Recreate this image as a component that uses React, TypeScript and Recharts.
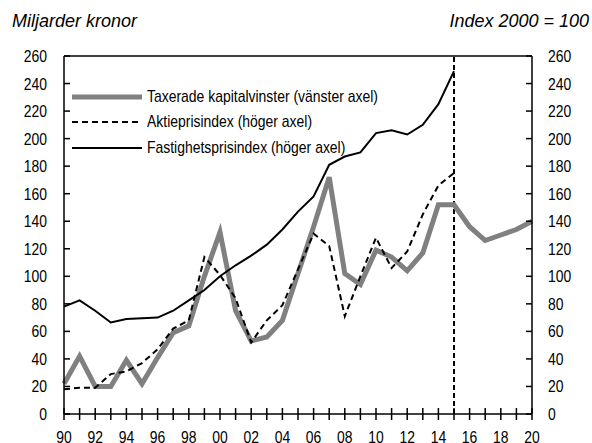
import { ComposedChart, Line, XAxis, YAxis, ReferenceLine } from 'recharts';

const FONT = '"Liberation Sans", Arial, sans-serif';
const NARROW = 0.82;

const years = [
  1990, 1991, 1992, 1993, 1994, 1995, 1996, 1997, 1998, 1999, 2000, 2001, 2002, 2003, 2004, 2005,
  2006, 2007, 2008, 2009, 2010, 2011, 2012, 2013, 2014, 2015, 2016, 2017, 2018, 2019, 2020,
];
// vänster axel, miljarder kronor
const kapitalvinster = [
  22, 42, 20, 20, 39, 22, 41, 59, 64, 100, 132, 75, 53, 56, 68, 102,
  136, 172, 102, 94, 119, 114, 104, 117, 152, 152, 136, 126, 130, 134, 140,
];
// höger axel, index 2000 = 100
const aktieprisindex = [
  18, 19, 19, 29, 31, 37, 47, 62, 68, 114, 101, 84, 52, 68, 79, 105,
  131, 122, 71, 100, 128, 106, 118, 145, 166, 175, null, null, null, null, null,
];
const fastighetsprisindex = [
  78, 82.5, 75, 66.5, 69, 69.5, 70, 75, 82.5, 90, 100, 108, 115, 123, 134, 147,
  158, 181, 187, 190, 204, 206, 203, 210, 225, 249, null, null, null, null, null,
];
const yTicks = [0, 20, 40, 60, 80, 100, 120, 140, 160, 180, 200, 220, 240, 260];
const prognosStart = 2015;

const rows = years.map((year, i) => ({
  year,
  kapitalvinster: kapitalvinster[i],
  aktie: aktieprisindex[i],
  fastighet: fastighetsprisindex[i],
}));

const NarrowText = ({ x, y, anchor, children }: any) => (
  <text
    transform={`translate(${x},${y}) scale(${NARROW},1)`}
    x={0}
    y={0}
    dy="0.35em"
    textAnchor={anchor}
    fontSize={17}
    fontFamily={FONT}
    fill="#000"
  >
    {children}
  </text>
);

const LeftTick = (props: any) => {
  const { x, y, payload } = props;
  return (
    <g>
      <line x1={x + 17} x2={x + 23} y1={y} y2={y} stroke="#000" strokeWidth={1.5} />
      <NarrowText x={x} y={y} anchor="end">{payload.value}</NarrowText>
    </g>
  );
};

const RightTick = (props: any) => {
  const { x, y, payload } = props;
  return (
    <g>
      <line x1={x - 16} x2={x - 22} y1={y} y2={y} stroke="#000" strokeWidth={1.5} />
      <NarrowText x={x} y={y} anchor="start">{payload.value}</NarrowText>
    </g>
  );
};

// year ticks cross the axis line, labels every second year
const YearTick = (props: any) => {
  const { x, y, payload } = props;
  const yr: number = payload.value;
  return (
    <g>
      <path d={`M${x},${y - 29}V${y - 17}`} stroke="#000" strokeWidth={1.5} />
      {yr % 2 === 0 && (
        <NarrowText x={x} y={y} anchor="middle">{String(yr % 100).padStart(2, '0')}</NarrowText>
      )}
    </g>
  );
};

const legendItems = [
  { label: 'Taxerade kapitalvinster (vänster axel)', color: '#808080', width: 5, dash: undefined },
  { label: 'Aktieprisindex (höger axel)', color: '#000', width: 2, dash: '6 4' },
  { label: 'Fastighetsprisindex (höger axel)', color: '#000', width: 2, dash: undefined },
];

const ChartLegend = () => (
  <div style={{ position: 'absolute', left: 72, top: 84, fontFamily: FONT, fontSize: 17, lineHeight: '20px' }}>
    {legendItems.map((item) => (
      <div key={item.label} style={{ display: 'flex', alignItems: 'center', height: 25.5, whiteSpace: 'nowrap' }}>
        <svg width={75} height={10} style={{ flex: 'none' }}>
          <line x1={0} x2={70} y1={5} y2={5} stroke={item.color} strokeWidth={item.width} strokeDasharray={item.dash} />
        </svg>
        <span style={{ display: 'inline-block', transform: `scaleX(${NARROW})`, transformOrigin: 'left center' }}>
          {item.label}
        </span>
      </div>
    ))}
  </div>
);

export default function App() {
  return (
    <div style={{ position: 'absolute', left: 0, top: 0, width: 592, height: 443, background: '#fff', overflow: 'hidden' }}>
      <div style={{ position: 'absolute', left: 12, top: 10, fontFamily: FONT, fontStyle: 'italic', fontSize: 18, lineHeight: '22px' }}>
        Miljarder kronor
      </div>
      <div style={{ position: 'absolute', right: 3, top: 10, fontFamily: FONT, fontStyle: 'italic', fontSize: 18, lineHeight: '22px' }}>
        Index 2000 = 100
      </div>
      <ComposedChart width={592} height={443} data={rows} margin={{ top: 56, right: 10, bottom: 0, left: 14 }}>
        <XAxis
          dataKey="year"
          type="number"
          domain={[1990, 2020]}
          ticks={years}
          interval={0}
          height={29}
          tickSize={0}
          tickMargin={23}
          tick={<YearTick />}
          axisLine={{ stroke: '#000', strokeWidth: 1.5 }}
          tickLine={false}
        />
        <YAxis
          yAxisId="left"
          domain={[0, 260]}
          ticks={yTicks}
          width={50}
          tickSize={0}
          tickMargin={17}
          tick={<LeftTick />}
          tickLine={false}
          axisLine={{ stroke: '#000', strokeWidth: 1.5 }}
        />
        <YAxis
          yAxisId="right"
          orientation="right"
          domain={[0, 260]}
          ticks={yTicks}
          width={50}
          tickSize={0}
          tickMargin={16}
          tick={<RightTick />}
          tickLine={false}
          axisLine={{ stroke: '#000', strokeWidth: 1.5 }}
        />
        <ReferenceLine yAxisId="left" y={260} stroke="#000" strokeWidth={1.5} />
        <ReferenceLine yAxisId="left" x={prognosStart} stroke="#000" strokeWidth={2} strokeDasharray="5 3" />
        <Line yAxisId="left" dataKey="kapitalvinster" stroke="#808080" strokeWidth={5} dot={false} isAnimationActive={false} />
        <Line yAxisId="right" dataKey="aktie" stroke="#000" strokeWidth={2} strokeDasharray="6 4" dot={false} isAnimationActive={false} />
        <Line yAxisId="right" dataKey="fastighet" stroke="#000" strokeWidth={2} dot={false} isAnimationActive={false} />
      </ComposedChart>
      <ChartLegend />
    </div>
  );
}
